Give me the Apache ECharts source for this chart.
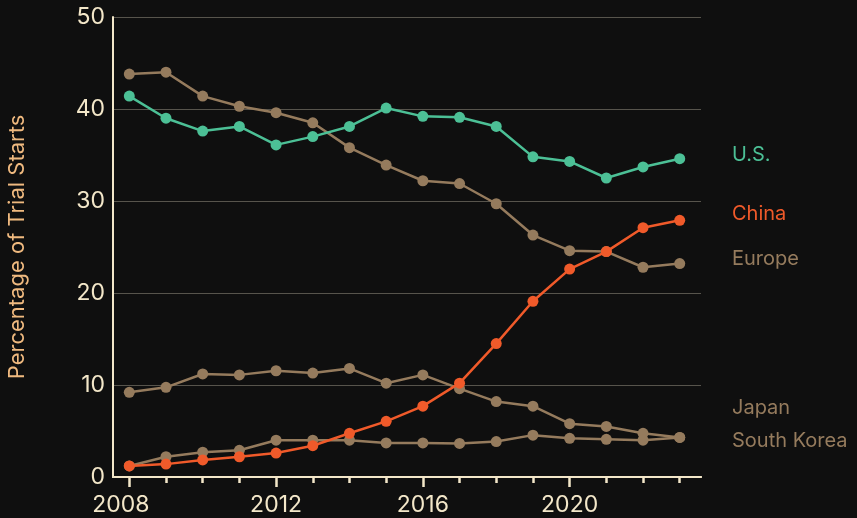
<!DOCTYPE html>
<html>
<head>
<meta charset="utf-8">
<script src="https://cdn.jsdelivr.net/npm/echarts@6/dist/echarts.min.js"></script>
<style>
  html, body { margin: 0; padding: 0; background: #0f0f0f; }
  #main { width: 857px; height: 518px; }
</style>
</head>
<body>
<div id="main"></div>
<script>
var years = [2008, 2009, 2010, 2011, 2012, 2013, 2014, 2015, 2016, 2017, 2018, 2019, 2020, 2021, 2022, 2023];
var labelYears = [2008, 2012, 2016, 2020];
var yTicks = [0, 10, 20, 30, 40, 50];

var us = [41.4, 39.0, 37.6, 38.1, 36.1, 37.0, 38.1, 40.1, 39.2, 39.1, 38.1, 34.8, 34.3, 32.5, 33.7, 34.6];
var china = [1.2, 1.4, 1.85, 2.2, 2.6, 3.4, 4.75, 6.05, 7.7, 10.2, 14.5, 19.1, 22.6, 24.5, 27.1, 27.9];
var europe = [43.8, 44.0, 41.4, 40.3, 39.6, 38.5, 35.8, 33.9, 32.2, 31.9, 29.7, 26.3, 24.6, 24.5, 22.8, 23.2];
var japan = [9.2, 9.75, 11.2, 11.1, 11.55, 11.3, 11.8, 10.2, 11.1, 9.6, 8.2, 7.7, 5.8, 5.5, 4.75, 4.3];
var korea = [1.2, 2.2, 2.7, 2.9, 4.0, 4.0, 4.0, 3.7, 3.7, 3.65, 3.85, 4.55, 4.2, 4.1, 4.0, 4.3];

var TEAL = '#4cc096', ORANGE = '#f05a2a', TAN = '#957b5d', CREAM = '#f3e7c9';
var FONT = 'Inter, "Noto Sans", sans-serif';

function pairs(vals) {
    return years.map(function (y, i) { return [y, vals[i]]; });
}

function line(name, vals, color, z) {
    return {
        name: name,
        type: 'line',
        data: pairs(vals),
        z: z,
        symbol: 'circle',
        symbolSize: 11,
        lineStyle: { color: color, width: 2.5 },
        itemStyle: { color: color },
        animation: false
    };
}

// end labels at the right, placed by hand like the original
function tag(text, y, color) {
    return {
        type: 'text', x: 732, y: y,
        style: { text: text, fill: color, font: '20px ' + FONT, verticalAlign: 'middle' }
    };
}

var chart = echarts.init(document.getElementById('main'));

var baseX = {
    type: 'value',
    min: 2007.556,
    max: 2023.58,
    position: 'bottom',
    splitLine: { show: false },
    axisLine: { show: true, lineStyle: { color: CREAM, width: 2 } }
};

var option = {
    backgroundColor: '#0f0f0f',
    textStyle: { fontFamily: FONT },
    grid: { left: 113, right: 156, top: 17, bottom: 41, outerBoundsMode: 'none', containLabel: false },
    xAxis: [
        Object.assign({}, baseX, {
            axisTick: { show: true, customValues: years, length: 6, lineStyle: { color: CREAM, width: 2.5 } },
            axisLabel: { show: false }
        }),
        Object.assign({}, baseX, {
            axisTick: { show: true, customValues: labelYears, length: 10, lineStyle: { color: CREAM, width: 2.5 } },
            axisLabel: {
                show: true,
                customValues: labelYears,
                color: CREAM,
                fontSize: 23,
                fontFamily: FONT,
                margin: 17,
                formatter: function (v) {
                    return Math.round(v) === 2008 ? '{a|' + Math.round(v) + '}' : '' + Math.round(v);
                },
                rich: { a: { fontSize: 23, color: CREAM, fontFamily: FONT, width: 74, align: 'left' } }
            }
        })
    ],
    yAxis: {
        type: 'value',
        min: yTicks[0],
        max: yTicks[yTicks.length - 1],
        interval: 10,
        name: 'Percentage of Trial Starts',
        nameLocation: 'middle',
        nameRotate: 90,
        nameGap: 85,
        nameTextStyle: { color: '#efb97f', fontSize: 22, fontFamily: FONT },
        axisLine: { show: true, lineStyle: { color: CREAM, width: 2 } },
        axisTick: { show: false },
        axisLabel: { color: CREAM, fontSize: 23, fontFamily: FONT, margin: 8 },
        splitLine: { show: true, lineStyle: { color: '#57544c', width: 1 } }
    },
    graphic: [
        tag('U.S.', 155, TEAL),
        tag('China', 214, ORANGE),
        tag('Europe', 259, TAN),
        tag('Japan', 408, TAN),
        tag('South Korea', 441, TAN)
    ],
    series: [
        line('Europe', europe, TAN, 2),
        line('Japan', japan, TAN, 2),
        line('South Korea', korea, TAN, 2),
        line('U.S.', us, TEAL, 3),
        line('China', china, ORANGE, 4)
    ]
};

chart.setOption(option);
</script>
</body>
</html>
